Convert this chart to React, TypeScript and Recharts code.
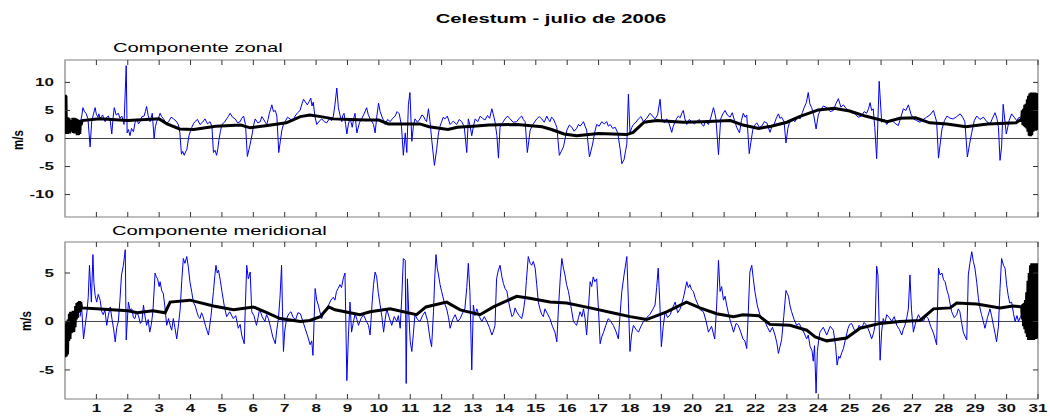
import React from "react";
import { LineChart, Line, XAxis, YAxis, ReferenceLine, ReferenceArea } from "recharts";

type Pt = [number, number];

// day of July 2006 -> wind speed (m/s)
const DAY_TICKS = [1, 2, 3, 4, 5, 6, 7, 8, 9, 10, 11, 12, 13, 14, 15, 16, 17, 18, 19, 20, 21, 22, 23, 24, 25, 26, 27, 28, 29, 30, 31];
const ZONAL_TICKS = [-10, -5, 0, 5, 10];
const MERID_TICKS = [-5, 0, 5];

const zonalRaw: Pt[] = [
  [0.5, 3.2], [0.54, 4.2], [0.57, 5.5], [0.62, 4.8], [0.67, 4.5], [0.73, 3.6], [0.8, -1.5], [0.85, 3], [0.9, 4.2], [0.96, 5.5],
  [1.0, 4.3], [1.05, 3.8], [1.08, 4.4], [1.12, 3.5], [1.16, 3.9], [1.2, 4.2], [1.24, 3.4], [1.28, 3], [1.33, 3.8], [1.38, 4],
  [1.44, 3.2], [1.49, 0.8], [1.53, 3.6], [1.57, 5.5], [1.63, 4.2], [1.7, 4.5], [1.75, 3.6], [1.81, 4], [1.85, 3.3], [1.88, 2.5],
  [1.95, 13], [1.98, 1], [2.02, 1.6], [2.07, 0.5], [2.12, 1.8], [2.18, 1.2], [2.23, 2.8], [2.29, 3.5], [2.34, 2.6], [2.39, 3],
  [2.45, 3.9], [2.52, 4], [2.56, 4.8], [2.6, 5.7], [2.65, 4.1], [2.71, 3], [2.75, 3.8], [2.78, 4.5], [2.84, 0], [2.88, 2.1],
  [2.92, 3], [2.98, 3.7], [3.03, 4.5], [3.08, 3.9], [3.14, 3.5], [3.22, 2.7], [3.3, 3], [3.38, 3.8], [3.46, 3.5], [3.54, 3.1],
  [3.61, 2.5], [3.66, 1.0], [3.71, -2.8], [3.75, -2.3], [3.8, -3], [3.84, -2.4], [3.88, -2], [3.95, 0.5], [4.0, 1.4], [4.04, 2],
  [4.09, 2.6], [4.14, 3], [4.22, 3.4], [4.3, 2.5], [4.38, 2.9], [4.46, 3.5], [4.54, 2.6], [4.62, 3], [4.68, 2.2], [4.73, -2.5],
  [4.78, -2.1], [4.83, -3], [4.87, -1.8], [4.91, 0], [4.95, 1.2], [5.0, 2.5], [5.08, 2.9], [5.15, 3.5], [5.2, 3.9], [5.26, 4.5],
  [5.34, 3.8], [5.42, 3.5], [5.5, 2.8], [5.58, 3], [5.63, 3.6], [5.69, 4], [5.75, 2.5], [5.81, -3.2], [5.86, -2], [5.9, -1],
  [5.97, 1], [6.01, 2.4], [6.06, 3.5], [6.14, 2.8], [6.22, 3], [6.27, 3.9], [6.32, 3.5], [6.38, 2.9], [6.43, 2.5], [6.47, 3.4],
  [6.51, 4.5], [6.55, 5.2], [6.59, 6], [6.64, 4.8], [6.7, 5], [6.75, 4], [6.81, -2.5], [6.86, -0.5], [6.91, 1.5], [6.96, 2.5],
  [7.01, 3], [7.09, 3.8], [7.17, 3.5], [7.25, 3.1], [7.33, 4], [7.41, 4.6], [7.49, 5], [7.55, 6.2], [7.6, 7], [7.66, 6.5],
  [7.72, 6], [7.78, 6.6], [7.83, 7.2], [7.87, 5.8], [7.91, 6.5], [7.96, 4], [8.02, 2.5], [8.1, 3.1], [8.18, 3.5], [8.26, 3.0],
  [8.34, 2.8], [8.42, 3.5], [8.5, 3.2], [8.55, 4], [8.6, 6], [8.66, 9], [8.71, 5.5], [8.76, 4.2], [8.82, 3], [8.85, 4.1],
  [8.89, 4.5], [8.94, 2.5], [8.98, 0.8], [9.03, 2.6], [9.08, 3.5], [9.12, 2.8], [9.15, 2], [9.2, 3.6], [9.24, 4.5], [9.27, 2.5],
  [9.3, 1], [9.38, 2.8], [9.45, 3.5], [9.53, 4.4], [9.61, 5.5], [9.66, 4.3], [9.72, 3.5], [9.78, 3.0], [9.83, 2.5], [9.88, 1],
  [9.94, 4.2], [9.99, 6.3], [10.04, 4.8], [10.09, 4], [10.15, 3.2], [10.2, 2.5], [10.28, 3.4], [10.36, 3], [10.44, 3.6], [10.52, 4],
  [10.58, 4.8], [10.65, 4.4], [10.72, 2.2], [10.78, -3], [10.84, 1], [10.89, -2.5], [10.94, 6], [10.99, 8.2], [11.05, -0.5], [11.1, 2.2],
  [11.15, 3.5], [11.23, 2.9], [11.31, 3.5], [11.37, 4.2], [11.42, 4], [11.47, 3.4], [11.52, 3], [11.58, 5.3], [11.63, 3], [11.68, 0],
  [11.77, -4.8], [11.84, -2], [11.9, 1], [11.95, 2.2], [12.0, 3], [12.05, 3.8], [12.11, 3.5], [12.18, 4], [12.27, 2.5], [12.37, 3.1],
  [12.48, 2.5], [12.56, 3.4], [12.64, 3], [12.72, 2.1], [12.8, -2.5], [12.85, 3.5], [12.9, 2.4], [12.96, 0.5], [13.02, 2.4], [13.07, 3.5],
  [13.15, 3.0], [13.23, 4], [13.3, 3.6], [13.38, 3.3], [13.46, 4.1], [13.53, 3.6], [13.6, 5.3], [13.65, 4.2], [13.7, 3], [13.76, 0.5],
  [13.81, -3.5], [13.86, 2], [13.94, 2.8], [14.02, 3.5], [14.1, 4.0], [14.18, 3.5], [14.28, 2.9], [14.39, 3], [14.47, 3.6], [14.55, 4],
  [14.6, 3.4], [14.66, 3], [14.73, -2.5], [14.82, 1.5], [14.92, 2.6], [15.03, 3.5], [15.11, 3.9], [15.19, 3.5], [15.27, 2.9], [15.35, 4],
  [15.4, 3.4], [15.45, 3], [15.5, 3.8], [15.56, 3.5], [15.62, 2.7], [15.67, 2], [15.75, -3], [15.82, -2.2], [15.88, -1.5], [15.99, 1.5],
  [16.07, 2.4], [16.15, 2], [16.22, 1.3], [16.3, 1.8], [16.36, 2.5], [16.41, 2.2], [16.47, 2.6], [16.52, 3], [16.57, 2.2], [16.62, 1.5],
  [16.71, -3.3], [16.81, -1], [16.88, 1.2], [16.94, 2.5], [17.02, 2.2], [17.1, 3], [17.18, 2.6], [17.26, 3], [17.31, 2.2], [17.37, 2.5],
  [17.45, 1.8], [17.53, 2], [17.61, 1.0], [17.69, -2], [17.74, -4.5], [17.81, -3.8], [17.86, -2.2], [17.9, -1], [17.95, 7.9], [18.0, 1],
  [18.06, 2.0], [18.11, 2.5], [18.19, 2.9], [18.27, 3.5], [18.35, 3.9], [18.43, 3], [18.53, 3.6], [18.64, 4.5], [18.72, 4.0], [18.8, 3.5],
  [18.88, 4.2], [18.96, 7], [19.01, 3.5], [19.09, 2.8], [19.17, 3.5], [19.25, 2.6], [19.33, 1.1], [19.38, 2.2], [19.44, 3], [19.49, 3.6],
  [19.54, 4], [19.6, 3.7], [19.65, 4.5], [19.7, 5], [19.75, 3.5], [19.81, 2.5], [19.89, 3.4], [19.97, 3], [20.05, 2.6], [20.13, 3],
  [20.21, 3.4], [20.29, 2.5], [20.35, 2.2], [20.4, 3], [20.45, 2.8], [20.5, 2.5], [20.58, 3.8], [20.66, 5.5], [20.7, 4.6], [20.74, 3.5],
  [20.82, -2.9], [20.89, 3.5], [20.96, 4.4], [21.03, 5], [21.1, 4.2], [21.19, 3.8], [21.26, 4.6], [21.33, 3.2], [21.4, 2], [21.49, 1],
  [21.55, 3.2], [21.61, 4.5], [21.67, 3.8], [21.72, 4.2], [21.8, -2.7], [21.91, 1.5], [21.98, 2.4], [22.04, 2.8], [22.12, 2.0], [22.2, 2.2],
  [22.28, 3.0], [22.36, 2.8], [22.46, 1.1], [22.52, 2.1], [22.59, 2.5], [22.66, 3.6], [22.73, 4.4], [22.78, 3.6], [22.83, 3.8], [22.91, 3],
  [22.97, -0.8], [23.03, 1.8], [23.08, 2.8], [23.17, 3.4], [23.26, 3], [23.34, 3.9], [23.42, 3.5], [23.49, 4.6], [23.55, 5.5], [23.62, 6.4],
  [23.68, 8.2], [23.73, 6.2], [23.79, 5.5], [23.86, 4.0], [23.93, 1.7], [24.0, 4.2], [24.06, 5], [24.16, 5.8], [24.27, 5.5], [24.38, 4.8],
  [24.48, 5], [24.56, 6.2], [24.64, 7.1], [24.72, 5.6], [24.8, 6], [24.88, 5.4], [24.96, 5], [25.06, 4.6], [25.17, 4.4], [25.27, 3.8],
  [25.38, 4], [25.46, 4.8], [25.54, 4.5], [25.6, 5.3], [25.65, 6.4], [25.7, 5.0], [25.75, 5.3], [25.8, 2.0], [25.86, -3.6], [25.94, 10.2],
  [26.02, 2.9], [26.1, 3.4], [26.18, 2.5], [26.28, 3.3], [26.39, 3], [26.47, 2.6], [26.55, 2.3], [26.63, 3.8], [26.71, 5.3], [26.79, 5.0],
  [26.87, 6], [26.95, 4.4], [27.03, 3.5], [27.13, 3.2], [27.24, 2.9], [27.35, 3.4], [27.45, 3.8], [27.56, 4.2], [27.67, 5], [27.72, 4.0],
  [27.77, 3], [27.83, -3.5], [27.94, 1.7], [28.02, 3.2], [28.1, 4], [28.2, 3.6], [28.3, 3.5], [28.41, 3.9], [28.52, 4.4], [28.6, 3.8],
  [28.67, 3], [28.75, -3.3], [28.82, -1.0], [28.89, 1.1], [28.97, 3.2], [29.05, 4], [29.15, 3.4], [29.26, 3.8], [29.37, 3.0], [29.47, 2.6],
  [29.55, 3.6], [29.63, 4.6], [29.69, 3.6], [29.74, 2], [29.79, -3.9], [29.84, -1.5], [29.89, 6.1], [29.99, 0.8], [30.08, 3.2], [30.16, 4.4],
  [30.24, 3.8], [30.32, 3.2], [30.4, 3.8], [30.48, 3.5],
];

// filtered series, including the ringing at both ends of the filter
const zonalFiltered: Pt[] = [
  [0, 0.8], [0.01, 7.8], [0.02, 1.2], [0.03, 7.6], [0.045, 0.9], [0.06, 3.6], [0.075, 0.8], [0.09, 3.8], [0.11, 1.0], [0.13, 3.6],
  [0.15, 0.9], [0.17, 3.2], [0.19, 1.4], [0.21, 3.3], [0.23, 1.2], [0.25, 3.7], [0.27, 1.0], [0.29, 3.7], [0.31, 0.9], [0.33, 3.6],
  [0.35, 1.0], [0.37, 3.5], [0.39, 0.6], [0.41, 3.4], [0.43, 0.6], [0.45, 3.3], [0.47, 0.8], [0.49, 3.0], [0.51, 2.4], [0.55, 3.2],
  [1.1, 3.5], [2.0, 3.2], [3.0, 3.5], [3.25, 2.6], [3.65, 1.7], [4.1, 1.6], [4.8, 2.2], [5.6, 2.4], [5.9, 1.9], [6.45, 2.3],
  [7.05, 2.8], [7.5, 3.9], [7.8, 4.2], [8.15, 3.9], [8.55, 3.5], [9.1, 3.4], [9.6, 3.3], [10.0, 3.3], [10.3, 2.6], [11.3, 2.6],
  [11.6, 2.1], [12.2, 1.6], [12.5, 2.0], [13.0, 2.2], [13.5, 2.4], [14.4, 2.5], [15.2, 2.1], [15.5, 1.6], [15.9, 0.8], [16.3, 0.5],
  [17.0, 0.9], [17.9, 0.7], [18.1, 1.1], [18.45, 2.9], [18.85, 3.2], [19.7, 2.9], [20.3, 3.0], [21.2, 3.2], [21.6, 2.4], [22.1, 1.8],
  [22.5, 2.2], [23.0, 2.9], [23.4, 3.9], [24.0, 5.1], [24.5, 5.4], [25.0, 4.9], [25.5, 4.0], [26.2, 3.0], [26.6, 3.6], [27.1, 3.7],
  [27.55, 2.8], [28.1, 2.6], [28.7, 2.1], [29.4, 2.6], [30.3, 2.8], [30.48, 3.5],
  [30.5, 5.0], [30.52, 2.4], [30.54, 5.3], [30.56, 2.2], [30.58, 6.0], [30.6, 2.0], [30.62, 6.2], [30.64, 1.8], [30.66, 7.0], [30.68, 1.2],
  [30.7, 7.6], [30.72, 0.5], [30.74, 8.0], [30.76, 0.4], [30.78, 8.2], [30.8, 0.6], [30.82, 8.2], [30.84, 1.2], [30.86, 8.2], [30.88, 1.4],
  [30.9, 8.2], [30.92, 1.4], [30.94, 8.1], [30.96, 1.5], [30.98, 8.0], [31, 1.5],
];

const meridionalRaw: Pt[] = [
  [0.48, 0.5], [0.53, 1.5], [0.59, -1.8], [0.64, -0.5], [0.7, 1], [0.74, 2.5], [0.78, 5.8], [0.84, 2], [0.89, 6.9], [0.92, 4.0],
  [0.96, 2.7], [1.01, 2], [1.06, 2.8], [1.12, 2.2], [1.17, 1], [1.22, 0.7], [1.27, 1.2], [1.33, -0.4], [1.38, 0.6], [1.44, 1.5],
  [1.5, 0.2], [1.55, -0.8], [1.6, -2.1], [1.65, -0.6], [1.7, 0], [1.75, 2.2], [1.8, 4.8], [1.86, 5.8], [1.92, 7.4], [1.95, -1.9],
  [2.02, 2], [2.07, 1.2], [2.13, 1.3], [2.18, 0.4], [2.23, 0.3], [2.28, 1.0], [2.34, 0.6], [2.4, -0.2], [2.45, 0], [2.5, 1.7],
  [2.55, 0.5], [2.6, -0.4], [2.65, 0.2], [2.7, -1.1], [2.75, -0.3], [2.8, 1], [2.87, 5], [2.91, 4.6], [2.95, 4.4], [3.0, 3.6],
  [3.03, 4.1], [3.08, 3.2], [3.13, 2.9], [3.18, 1.6], [3.24, -0.4], [3.3, 0.3], [3.35, -0.4], [3.4, -0.9], [3.45, 0.3], [3.5, -0.6],
  [3.56, -1.8], [3.62, -0.2], [3.67, 1.3], [3.72, 4.2], [3.77, 6.5], [3.82, 6.0], [3.88, 6.7], [3.93, 5.6], [3.98, 4.1], [4.04, 3.0],
  [4.09, 2], [4.15, 1.6], [4.2, 1], [4.25, 0.5], [4.3, 0.3], [4.35, 0.9], [4.4, 0.5], [4.48, -0.5], [4.57, -1.4], [4.65, 0.5],
  [4.73, 3.1], [4.77, 4.6], [4.81, 5.8], [4.85, 5.0], [4.89, 5.3], [4.95, 4.2], [5.0, 3.1], [5.08, 1.5], [5.15, 0.5], [5.25, 1.0],
  [5.36, 0.3], [5.44, 0.6], [5.52, -0.7], [5.58, -0.3], [5.63, -1.4], [5.71, -2.3], [5.75, 2.0], [5.79, 5.8], [5.84, 4.4], [5.9, 5.1],
  [5.95, 1], [6.02, 0.6], [6.1, -0.4], [6.15, 0.4], [6.2, 1.3], [6.28, 0.5], [6.37, 0], [6.42, 0.7], [6.48, 0.3], [6.55, -0.6],
  [6.62, -1.6], [6.7, -2.3], [6.75, -0.8], [6.8, 0.3], [6.85, 2.5], [6.9, 5.8], [6.93, 1.0], [6.96, -3.1], [7.0, -1.0], [7.06, 0.3],
  [7.13, 0.8], [7.2, 1], [7.27, 0.4], [7.35, 0.2], [7.42, 0.9], [7.5, 0.8], [7.57, 0.1], [7.65, -0.7], [7.73, -1.5], [7.81, -2.4],
  [7.86, -2.0], [7.9, -3.5], [7.97, 3.4], [8.02, 2.2], [8.07, 1.7], [8.12, 1.0], [8.18, 0.3], [8.23, 0.8], [8.28, 1], [8.34, 1.4],
  [8.4, 1.7], [8.47, 2.2], [8.55, 2.5], [8.6, 2.2], [8.65, 3.1], [8.7, 3.4], [8.76, 3.8], [8.81, 3.5], [8.87, 4.5], [8.92, 5],
  [8.98, -6.1], [9.03, -1.4], [9.08, 2], [9.13, -1.1], [9.18, -0.2], [9.24, 0.8], [9.3, 0.2], [9.35, -0.4], [9.43, 0.3], [9.51, 0.7],
  [9.59, 0.1], [9.67, -0.4], [9.72, -1.4], [9.78, 1.7], [9.83, 3.8], [9.88, 5.1], [9.93, 4.6], [9.98, 3.0], [10.04, 1.7], [10.1, 0.4],
  [10.15, -1.1], [10.2, 0.2], [10.25, 1.3], [10.33, 0.4], [10.41, -0.4], [10.49, 0.5], [10.57, 0], [10.62, 0.6], [10.68, -0.7], [10.73, 2.5],
  [10.78, 6.5], [10.84, 6.3], [10.87, -6.4], [10.91, 4.4], [10.95, 1.0], [11.0, -2.1], [11.05, -3.1], [11.1, -1.2], [11.15, 0.7], [11.23, 0.2],
  [11.31, 0], [11.39, 0.6], [11.47, 1], [11.55, 0.1], [11.63, -1.8], [11.68, -2.6], [11.74, 1], [11.78, 4.5], [11.82, 6.9], [11.86, 5.5],
  [11.9, 4.8], [11.95, 3.8], [12.0, 3.1], [12.08, 2.0], [12.16, 1.3], [12.22, 0.4], [12.27, -0.7], [12.35, 0.2], [12.43, 0.7], [12.51, 0.0],
  [12.59, 0.3], [12.67, 0.9], [12.74, 1.3], [12.8, 3.5], [12.85, 6], [12.9, 3.1], [12.96, -5], [13.01, 1.7], [13.06, 0.6], [13.12, 1.3],
  [13.2, 0.5], [13.28, 0], [13.36, 0.5], [13.44, 0], [13.52, -0.6], [13.6, -1.4], [13.65, -1.0], [13.7, -0.4], [13.75, 4.4], [13.8, 5.2],
  [13.86, 5.8], [13.92, 4.6], [13.97, 3.9], [14.02, 3.4], [14.08, 3.1], [14.13, 2.1], [14.18, 1.3], [14.24, 0.5], [14.29, 0.7], [14.34, 1.4],
  [14.39, 1], [14.47, 0.6], [14.55, 0.3], [14.6, 1.0], [14.66, 2.4], [14.7, 4.2], [14.76, 6.7], [14.82, 6.0], [14.87, 5.8], [14.92, 6.2],
  [14.98, 5.5], [15.03, 3.8], [15.08, 2], [15.14, 1.2], [15.19, 0.7], [15.24, 0.5], [15.29, 1.3], [15.37, 0.8], [15.45, 0.3], [15.53, -0.5],
  [15.61, -1.1], [15.67, -2.1], [15.72, 1.3], [15.78, 4.5], [15.83, 6.5], [15.88, 5.5], [15.93, 4.8], [15.98, 3.8], [16.04, 3.1], [16.2, 0],
  [16.25, -0.2], [16.3, -0.4], [16.36, 0.4], [16.41, 1], [16.47, 0.5], [16.52, 1.3], [16.57, 0.3], [16.62, -1.4], [16.67, 1.0], [16.73, 4.1],
  [16.78, 3.6], [16.83, 4.6], [16.88, 4.1], [16.94, 4.4], [17.0, 1.0], [17.05, -2.3], [17.1, -1.6], [17.16, -1.1], [17.23, -0.4], [17.31, 0.3],
  [17.39, 0.0], [17.47, -0.4], [17.55, -1.0], [17.63, -1.8], [17.68, 0.5], [17.74, 3.1], [17.82, 5.0], [17.9, 6.7], [17.95, 2.0], [18.0, -3.1],
  [18.05, -1.4], [18.11, -0.4], [18.19, -0.8], [18.27, -1.1], [18.35, -0.5], [18.43, 0], [18.53, 0.4], [18.63, 0.7], [18.72, 1.2], [18.8, 1.7],
  [18.85, 3.5], [18.9, 5.5], [18.95, 2.0], [19.0, -2.6], [19.06, -0.5], [19.12, 1], [19.2, 0.4], [19.28, 0.7], [19.36, 1.4], [19.44, 2],
  [19.52, 0.9], [19.6, 1.3], [19.7, 2.4], [19.81, 4.1], [19.86, 3.5], [19.91, 3.8], [19.96, 3.3], [20.02, 3.1], [20.08, 2.4], [20.13, 2],
  [20.24, 1.2], [20.34, 1], [20.42, 0.1], [20.5, -1.1], [20.6, -0.5], [20.7, -1.8], [20.76, 1.5], [20.82, 6.3], [20.87, 3.1], [20.92, 3.6],
  [20.98, 2.2], [21.03, 2.6], [21.08, 1.7], [21.14, 0.8], [21.2, 0], [21.25, -0.5], [21.3, -1.1], [21.38, -0.2], [21.45, -0.4], [21.52, -1.0],
  [21.6, -1.8], [21.66, -2.0], [21.72, -2.8], [21.77, 1.0], [21.82, 5.1], [21.88, 5.8], [21.93, 4.4], [21.98, 3.1], [22.06, 1.6], [22.14, 0.7],
  [22.22, 0.3], [22.3, 0], [22.38, -0.6], [22.46, -1.1], [22.54, -0.6], [22.62, -1.4], [22.68, -2.2], [22.73, -3.3], [22.78, -2.6], [22.83, -1.9],
  [22.9, 0.5], [22.97, 3.2], [23.01, 2.9], [23.05, 2.6], [23.1, 1.6], [23.15, 1], [23.23, 0.2], [23.31, -0.4], [23.39, -0.2], [23.47, -0.7],
  [23.55, -1.2], [23.63, -1.8], [23.68, -1.4], [23.74, -2.6], [23.8, -3.0], [23.84, -4.1], [23.88, -2.5], [23.93, -7.4], [23.97, -3.1], [24.01, -2.0],
  [24.05, -1.1], [24.16, -0.6], [24.27, -1.4], [24.38, -0.5], [24.48, -0.9], [24.55, -2.5], [24.6, -4.5], [24.65, -3.6], [24.69, -3.8], [24.75, -3.2],
  [24.8, -2.8], [24.88, -1.6], [24.95, -0.7], [25.0, -0.3], [25.06, -0.2], [25.14, -0.8], [25.22, -1.1], [25.3, -0.4], [25.38, -0.7], [25.46, -0.1],
  [25.54, -0.4], [25.62, -1.0], [25.7, -1.8], [25.76, -1.2], [25.81, -0.4], [25.86, 5.7], [25.9, 4.8], [25.97, -4], [26.02, -1.0], [26.07, 0.3],
  [26.12, -0.2], [26.18, 0.7], [26.26, 0.4], [26.34, 0], [26.42, 0.5], [26.5, -0.4], [26.58, -0.8], [26.66, -1.4], [26.71, -0.8], [26.76, -0.4],
  [26.82, 0.4], [26.87, 1.3], [26.92, 4.8], [26.97, 1.2], [27.03, -1.1], [27.11, 0.0], [27.19, 0.7], [27.27, 0.2], [27.35, 0], [27.42, 0.6],
  [27.5, 0.3], [27.58, -0.5], [27.67, -1.2], [27.72, -1.8], [27.77, -2.4], [27.83, 5.5], [27.88, 4.8], [27.94, 5], [27.99, 4.3], [28.04, 4.1],
  [28.1, 3.2], [28.15, 2.7], [28.2, 1.8], [28.25, 1], [28.33, 0.4], [28.41, 0.7], [28.46, 1.3], [28.51, 1], [28.56, 0.0], [28.62, -1.1],
  [28.67, -1.5], [28.73, -1.9], [28.78, 4.8], [28.83, 6.0], [28.89, 7.2], [28.94, 6.2], [28.99, 5.5], [29.05, 4.0], [29.1, 2.4], [29.15, 1.4],
  [29.2, 0.7], [29.25, 0.1], [29.31, -0.7], [29.39, 0.4], [29.47, 1.3], [29.52, 0.6], [29.58, -0.4], [29.63, -1.2], [29.68, -2.1], [29.74, -0.5],
  [29.79, 3.4], [29.84, 6.5], [29.9, 5.8], [29.95, 5.5], [30.0, 3.8], [30.05, 2.7], [30.1, 1.9], [30.16, 2], [30.22, 0.8], [30.27, 0],
  [30.33, 0.6], [30.38, 0], [30.43, 0.4], [30.48, 0.7],
];

const meridionalFiltered: Pt[] = [
  [0, -3.7], [0.02, -0.2], [0.04, -3.6], [0.06, 0], [0.08, -3.4], [0.1, 0.2], [0.12, -2.0], [0.14, 0.8], [0.16, -1.8], [0.18, 1.0],
  [0.2, -1.2], [0.22, 1.0], [0.24, -1.0], [0.26, 1.1], [0.28, -1.1], [0.3, 0.9], [0.32, -0.6], [0.34, 1.6], [0.36, 0.2], [0.38, 1.9],
  [0.4, 0.4], [0.42, 2.0], [0.44, 0.9], [0.46, 2.1], [0.48, 1.0], [0.5, 2.0], [0.53, 1.4],
  [1.0, 1.3], [2.0, 1.1], [2.3, 0.9], [2.8, 1.1], [3.19, 0.9], [3.35, 2.0], [3.98, 2.2], [4.73, 1.6], [5.37, 1.2],
  [6.0, 1.5], [6.43, 0.9], [6.85, 0.3], [7.5, 0.0], [7.8, 0.1], [8.13, 0.5], [8.4, 1.5], [8.6, 1.2], [9.08, 0.9], [9.4, 0.7],
  [9.72, 1.0], [10.36, 1.3], [11.2, 0.7], [11.5, 1.5], [12.16, 2.0], [12.59, 1.2], [13.22, 0.7], [13.65, 1.5], [14.39, 2.6], [14.8, 2.4],
  [15.45, 2.0], [15.98, 1.9], [16.73, 1.4], [17.58, 0.8], [18.0, 0.5], [18.53, 0.2], [19.17, 1.0], [19.8, 2.0], [20.23, 1.4], [20.76, 0.8],
  [21.3, 0.5], [21.6, 0.7], [22.1, 0.6], [22.46, -0.3], [23.1, -0.4], [23.63, -0.9], [23.9, -1.6], [24.27, -2.0], [24.9, -1.7], [25.33, -0.7],
  [25.97, -0.2], [26.6, 0.0], [27.24, 0.1], [27.67, 1.3], [28.2, 1.4], [28.41, 1.9], [29.05, 1.8], [29.79, 1.4], [30.2, 1.6], [30.48, 1.5],
  [30.5, 0.2], [30.52, 1.8], [30.54, -0.5], [30.56, 1.9], [30.58, -0.8], [30.6, 2.2], [30.62, -1.2], [30.64, 3.0], [30.66, -1.6], [30.68, 4.2],
  [30.7, -1.9], [30.72, 5.0], [30.74, -1.9], [30.76, 5.8], [30.78, -1.8], [30.8, 6.0], [30.82, -1.9], [30.84, 6.0], [30.86, -1.9], [30.88, 6.0],
  [30.9, -1.8], [30.92, 6.0], [30.94, -1.8], [30.96, 6.0], [30.98, -1.7], [31, 6.0],
];

const W = 1050;
const H = 416;
const PLOT_LEFT = 65;
const PLOT_RIGHT = 1038;
const STRETCH = 1.62;
const FONT = '"Liberation Sans", Arial, Helvetica, sans-serif';
const FRAME = "#808080";
const TICK = "#333";
const RAW_COLOR = "#0000f0";

const toRows = (pts: Pt[]) => pts.map(([t, v]) => ({ t, v }));

// matlab-like ticks: pointing inwards on both edges of the box
const makeXTick = (plotTop: number, plotBottom: number, showLabel: boolean) => (props: any) => {
  const { x, payload } = props;
  return (
    <g>
      <line x1={x} x2={x} y1={plotBottom} y2={plotBottom - 5} stroke={TICK} />
      <line x1={x} x2={x} y1={plotTop} y2={plotTop + 5} stroke={TICK} />
      {showLabel && (
        <text
          transform={`translate(${x},${plotBottom + 13}) scale(${STRETCH},1)`}
          textAnchor="middle"
          fontSize={10.5}
          fontWeight="bold"
          fontFamily={FONT}
          fill="#111"
        >
          {payload.value}
        </text>
      )}
    </g>
  );
};

const YTick = (props: any) => {
  const { y, payload } = props;
  return (
    <g>
      <line x1={PLOT_LEFT} x2={PLOT_LEFT + 5} y1={y} y2={y} stroke={TICK} />
      <line x1={PLOT_RIGHT} x2={PLOT_RIGHT - 5} y1={y} y2={y} stroke={TICK} />
      <text
        transform={`translate(${PLOT_LEFT - 11},${y + 3.8}) scale(${STRETCH},1)`}
        textAnchor="end"
        fontSize={10.5}
        fontWeight="bold"
        fontFamily={FONT}
        fill="#111"
      >
        {payload.value}
      </text>
    </g>
  );
};

interface PanelProps {
  raw: Pt[];
  filtered: Pt[];
  domain: [number, number];
  yTicks: number[];
  top: number;
  bottom: number;
  showLabels: boolean;
}

const Panel: React.FC<PanelProps> = ({ raw, filtered, domain, yTicks, top, bottom, showLabels }) => (
  <div style={{ position: "absolute", left: 0, top: 0 }}>
    <LineChart
      width={W}
      height={H}
      margin={{ top, right: W - PLOT_RIGHT, bottom: H - bottom - 1, left: PLOT_LEFT - 1 }}
    >
      <XAxis
        type="number"
        dataKey="t"
        domain={[0, 31]}
        ticks={DAY_TICKS}
        interval={0}
        allowDataOverflow
        height={1}
        tickSize={0}
        tickMargin={0}
        tickLine={false}
        axisLine={false}
        tick={makeXTick(top, bottom, showLabels)}
      />
      <YAxis
        type="number"
        domain={domain}
        ticks={yTicks}
        interval={0}
        allowDataOverflow
        width={1}
        tickSize={0}
        tickMargin={0}
        tickLine={false}
        axisLine={false}
        tick={YTick}
      />
      <ReferenceArea x1={0} x2={31} y1={domain[0]} y2={domain[1]} fill="none" stroke={FRAME} strokeWidth={1.2} />
      <ReferenceLine y={0} stroke="#444" strokeWidth={1} />
      <Line
        data={toRows(raw)}
        dataKey="v"
        type="linear"
        stroke={RAW_COLOR}
        strokeWidth={1}
        dot={false}
        isAnimationActive={false}
      />
      <Line
        data={toRows(filtered)}
        dataKey="v"
        type="linear"
        stroke="#000"
        strokeWidth={3}
        dot={false}
        isAnimationActive={false}
      />
    </LineChart>
  </div>
);

const App: React.FC = () => (
  <div
    style={{
      position: "absolute",
      left: 0,
      top: 0,
      width: W,
      height: H,
      background: "#fff",
      overflow: "hidden",
      fontFamily: FONT,
    }}
  >
    <Panel raw={zonalRaw} filtered={zonalFiltered} domain={[-14, 14]} yTicks={ZONAL_TICKS} top={60} bottom={217} showLabels={false} />
    <Panel raw={meridionalRaw} filtered={meridionalFiltered} domain={[-8, 8.2]} yTicks={MERID_TICKS} top={242} bottom={399} showLabels />
    <svg width={W} height={H} style={{ position: "absolute", left: 0, top: 0, pointerEvents: "none" }}>
      <text transform={`translate(551,23) scale(${STRETCH},1)`} textAnchor="middle" fontSize={12.5} fontWeight="bold" fontFamily={FONT} fill="#000">
        Celestum - julio de 2006
      </text>
      <text transform={`translate(113,52) scale(${STRETCH},1)`} fontSize={12.5} fontFamily={FONT} fill="#000">
        Componente zonal
      </text>
      <text transform={`translate(112,235) scale(${STRETCH},1)`} fontSize={12.5} fontFamily={FONT} fill="#000">
        Componente meridional
      </text>
      <text transform="translate(17.5,140) scale(1.35,1) rotate(-90)" y={4} textAnchor="middle" fontSize={11.5} fontWeight="bold" fontFamily={FONT} fill="#000">
        m/s
      </text>
      <text transform="translate(26,321) scale(1.35,1) rotate(-90)" y={4} textAnchor="middle" fontSize={11.5} fontWeight="bold" fontFamily={FONT} fill="#000">
        m/s
      </text>
    </svg>
  </div>
);

export default App;
